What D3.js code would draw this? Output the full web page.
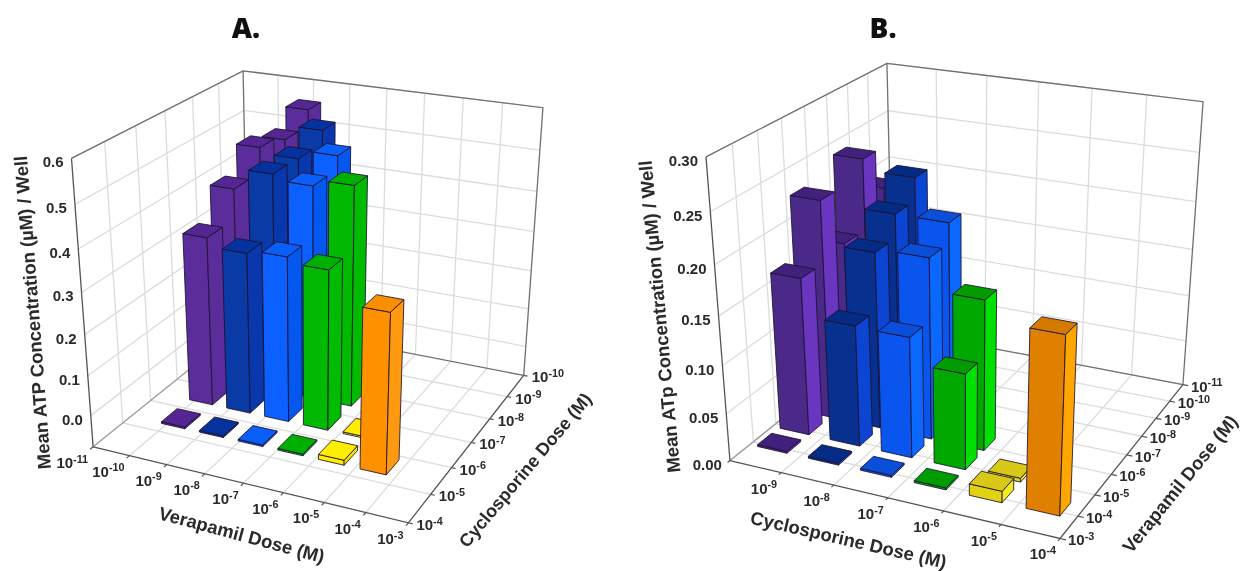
<!DOCTYPE html>
<html>
<head>
<meta charset="utf-8">
<script src="https://cdn.jsdelivr.net/npm/d3@7"></script>
<style>
  html, body { margin: 0; background: #fff; }
  svg { filter: blur(0.4px); }
  text { font-family: "Liberation Sans", Arial, sans-serif; fill: #2a2a2a; font-weight: bold; }
  .title { font-family: "Open Sans", sans-serif; font-size: 28px; font-weight: 800; fill: #111; }
</style>
</head>
<body>
<svg id="chart" width="1241" height="571"></svg>
<script>
const verapamilExpA = [-11, -10, -9, -8, -7, -6, -5, -4, -3]
const cycloExpA = [-4, -5, -6, -7, -8, -9, -10]
const zTicksA = [0, 0.1, 0.2, 0.3, 0.4, 0.5, 0.6]

const cycloExpB = [-10, -9, -8, -7, -6, -5, -4]
const verapamilExpB = [-3, -4, -5, -6, -7, -8, -9, -10, -11]
const zTicksB = [0, 0.05, 0.10, 0.15, 0.20, 0.25, 0.30]

// rows run front to back, columns run left to right
const purpleA = [0.004, 0.405, 0.475, 0.533, 0.515, 0.553]
const navyA = [0.004, 0.385, 0.523, 0.52, 0.55]
const blueA = [0.004, 0.393, 0.51, 0.54]
const greenA = [0.004, 0.38, 0.525]
const yellowA = [0.012, 0.004]
const orangeA = [0.37]

const purpleB = [0.002, 0.165, 0.228, 0.17, 0.243, 0.20]
const navyB = [0.002, 0.127, 0.185, 0.209, 0.232]
const blueB = [0.002, 0.126, 0.189, 0.209]
const greenB = [0.002, 0.10, 0.157]
const yellowB = [0.012, 0.004]
const orangeB = [0.178]

const coloursA = [
  ['#5a2d9b', '#5a2d9b', '#532691'],
  ['#0a3aa6', '#0838ac', '#0433a0'],
  ['#0b60ff', '#0558ee', '#0a5ff8'],
  ['#00b900', '#00bb00', '#00b000'],
  ['#ffee00', '#f4e200', '#ffee00'],
  ['#ff9100', '#ff9a10', '#f98e00']
]
const coloursB = [
  ['#4a2988', '#6a35bf', '#41217c'],
  ['#08308f', '#0b45d2', '#052c85'],
  ['#0a55ee', '#0a68ff', '#0a4fd8'],
  ['#00a800', '#00e000', '#009c00'],
  ['#e2d214', '#f2ea20', '#d8c818'],
  ['#e08000', '#ffa600', '#d47a00']
]

// least squares camera matrix from the cube corners
function fitCamera (pairs) {
  const n = 11
  const A = d3.range(n).map(() => new Array(n + 1).fill(0))
  function addRow (row, rhs) {
    for (let i = 0; i < n; i++) {
      for (let j = 0; j < n; j++) A[i][j] += row[i] * row[j]
      A[i][n] += row[i] * rhs
    }
  }
  pairs.forEach(([[X, Y, Z], [u, v]]) => {
    addRow([X, Y, Z, 1, 0, 0, 0, 0, -u * X, -u * Y, -u * Z], u)
    addRow([0, 0, 0, 0, X, Y, Z, 1, -v * X, -v * Y, -v * Z], v)
  })
  for (let c = 0; c < n; c++) {
    let best = c
    for (let r = c + 1; r < n; r++) if (Math.abs(A[r][c]) > Math.abs(A[best][c])) best = r
    const tmp = A[c]; A[c] = A[best]; A[best] = tmp
    for (let r = 0; r < n; r++) {
      if (r === c) continue
      const f = A[r][c] / A[c][c]
      for (let k = c; k <= n; k++) A[r][k] -= f * A[c][k]
    }
  }
  const p = A.map((row, i) => row[n] / row[i])
  return ([X, Y, Z]) => {
    const w = p[8] * X + p[9] * Y + p[10] * Z + 1
    return [
      (p[0] * X + p[1] * Y + p[2] * Z + p[3]) / w,
      (p[4] * X + p[5] * Y + p[6] * Z + p[7]) / w
    ]
  }
}

function supLabel (g, base, exp, x, y, size, anchor) {
  const t = g.append('text').attr('x', x).attr('y', y).attr('text-anchor', anchor || 'start')
    .style('font-size', size + 'px')
  t.append('tspan').text(base)
  t.append('tspan').attr('dy', -size * 0.35).style('font-size', (size * 0.72) + 'px').text(exp)
  return t
}

function drawPanel (svg, cfg) {
  const g = svg.append('g')
  const x = d3.scaleLinear().domain(cfg.xDomain).range([0, 1])
  const y = d3.scaleLinear().domain(cfg.yDomain).range([0, 1])
  const z = d3.scaleLinear().domain(cfg.zDomain).range([0, 1])
  const project = fitCamera(cfg.corners)
  const pt = (a, b, c) => project([x(a), y(b), z(c)])
  const line = d3.line()
  const [x0, x1] = cfg.xDomain
  const [y0, y1] = cfg.yDomain
  const [z0, z1] = cfg.zDomain

  const grid = g.append('g').attr('stroke', '#dcdcdc').attr('stroke-width', 1.3).attr('fill', 'none')
  cfg.xTicks.slice(1, -1).forEach(t => {
    grid.append('path').attr('d', line([pt(t, y0, z0), pt(t, y1, z0), pt(t, y1, z1)]))
  })
  cfg.yTicks.slice(1, -1).forEach(t => {
    grid.append('path').attr('d', line([pt(x0, t, z1), pt(x0, t, z0), pt(x1, t, z0)]))
  })
  cfg.zTicks.forEach(t => {
    grid.append('path').attr('d', line([pt(x0, y0, t), pt(x0, y1, t), pt(x1, y1, t)]))
  })

  // box frame
  const frame = g.append('g').attr('stroke', '#707070').attr('stroke-width', 1.3).attr('fill', 'none')
  frame.append('path').attr('d', line([pt(x0, y0, z1), pt(x0, y1, z1), pt(x1, y1, z1), pt(x1, y1, z0)]))
  frame.append('path').attr('d', line([pt(x0, y1, z1), pt(x0, y1, z0)]))
  frame.append('path').attr('d', line([pt(x0, y1, z0), pt(x1, y1, z0)]))
  frame.append('path').attr('d', line([pt(x0, y1, z0), pt(x0, y0, z0)])).attr('stroke', '#9a9a9a')
  frame.append('path').attr('d', line([pt(x0, y0, z0), pt(x1, y0, z0), pt(x1, y1, z0)])).attr('stroke', '#555')
  frame.append('path').attr('d', line([pt(x0, y0, z0), pt(x0, y0, z1)])).attr('stroke', '#555')

  // bars, back rows first
  const bars = []
  cfg.series.forEach((values, col) => {
    values.forEach((v, row) => bars.push({ col, row, v }))
  })
  bars.sort((a, b) => b.row - a.row || a.col - b.col)
  const hw = cfg.barX / 2
  const hd = cfg.barY / 2
  bars.forEach(d => {
    const cx = cfg.xFirst + d.col
    const cy = cfg.yFirst - d.row
    const l = cx - hw
    const r = cx + hw
    const f = cy + hd
    const b = cy - hd
    const [front, side, top] = cfg.colours[d.col]
    const face = (pts, fill) => g.append('path')
      .attr('d', line(pts) + 'Z')
      .attr('fill', fill)
      .attr('stroke', '#1c1030')
      .attr('stroke-opacity', 0.85)
      .attr('stroke-width', 1)
      .attr('stroke-linejoin', 'round')
    face([pt(l, f, 0), pt(r, f, 0), pt(r, f, d.v), pt(l, f, d.v)], front)
    face([pt(r, f, 0), pt(r, b, 0), pt(r, b, d.v), pt(r, f, d.v)], side)
    face([pt(l, f, d.v), pt(r, f, d.v), pt(r, b, d.v), pt(l, b, d.v)], top)
  })

  // axis ticks and labels
  const ticks = g.append('g').attr('stroke', '#555').attr('stroke-width', 1.2)
  cfg.xTicks.forEach((t, i) => {
    const p = pt(t, y0, z0)
    const q = pt(t, y0 + 0.1, z0)
    ticks.append('line').attr('x1', p[0]).attr('y1', p[1]).attr('x2', q[0]).attr('y2', q[1])
    if (i >= cfg.xLabelFrom) supLabel(g, '10', t, p[0] + cfg.xLabelDx, p[1] + cfg.xLabelDy, 15, 'end')
  })
  cfg.yTicks.forEach(t => {
    const p = pt(x1, t, z0)
    const q = pt(x1 + 0.1, t, z0)
    ticks.append('line').attr('x1', p[0]).attr('y1', p[1]).attr('x2', q[0]).attr('y2', q[1])
    supLabel(g, '10', t, p[0] + cfg.yLabelDx, p[1] + 7, 15)
  })
  cfg.zTicks.forEach(t => {
    const p = pt(x0, y0, t)
    g.append('text').attr('x', p[0] - 8).attr('y', p[1] + 9).attr('text-anchor', 'end')
      .style('font-size', '15px').text(cfg.zFormat(t))
  })

  cfg.texts.forEach(d => {
    g.append('text')
      .attr('transform', `translate(${d.x},${d.y}) rotate(${d.rot})`)
      .attr('text-anchor', 'middle')
      .style('font-size', d.size + 'px')
      .text(d.label)
  })
  g.append('text').attr('class', 'title').attr('x', cfg.titleX).attr('y', 38)
    .attr('text-anchor', 'middle').text(cfg.title)
}

const svg = d3.select('#chart')

drawPanel(svg, {
  title: 'A.',
  titleX: 246,
  xDomain: [-11, -3],
  yDomain: [-4, -10],
  zDomain: [-0.08, 0.6],
  xTicks: verapamilExpA,
  yTicks: cycloExpA,
  zTicks: zTicksA,
  zFormat: d3.format('.1f'),
  corners: [
    [[0, 0, 0], [93.5, 447]],
    [[1, 0, 0], [408, 523]],
    [[1, 1, 0], [524, 375]],
    [[0, 1, 0], [248, 322]],
    [[0, 0, 1], [71.5, 158]],
    [[0, 1, 1], [243, 71]],
    [[1, 1, 1], [543, 108]]
  ],
  series: [purpleA, navyA, blueA, greenA, yellowA, orangeA],
  colours: coloursA,
  xFirst: -9.0,
  yFirst: -4.55,
  barX: 0.62,
  barY: 0.55,
  xLabelFrom: 0,
  xLabelDx: -5,
  xLabelDy: 21,
  yLabelDx: 8,
  texts: [
    { label: 'Mean ATP Concentration (µM) / Well', x: 39, y: 312, rot: -94.4, size: 18.5 },
    { label: 'Verapamil Dose (M)', x: 240, y: 541, rot: 15, size: 18.5 },
    { label: 'Cyclosporine Dose (M)', x: 530, y: 474, rot: -50, size: 18 }
  ]
})

drawPanel(svg, {
  title: 'B.',
  titleX: 883,
  xDomain: [-10, -4],
  yDomain: [-3, -11],
  zDomain: [0, 0.30],
  xTicks: cycloExpB,
  yTicks: verapamilExpB,
  zTicks: zTicksB,
  zFormat: d3.format('.2f'),
  corners: [
    [[0, 0, 0], [730, 460]],
    [[1, 0, 0], [1060, 539]],
    [[1, 1, 0], [1183, 384]],
    [[0, 1, 0], [893, 330]],
    [[0, 0, 1], [706, 157]],
    [[0, 1, 1], [887, 63]],
    [[1, 1, 1], [1203, 102]]
  ],
  series: [purpleB, navyB, blueB, greenB, yellowB, orangeB],
  colours: coloursB,
  xFirst: -9.55,
  yFirst: -4.15,
  barX: 0.58,
  barY: 0.62,
  xLabelFrom: 1,
  xLabelDx: -4,
  xLabelDy: 21,
  yLabelDx: 8,
  texts: [
    { label: 'Mean ATp Concentration (µM) / Well', x: 666, y: 316, rot: -95.3, size: 18.5 },
    { label: 'Cyclosporine Dose (M)', x: 847, y: 546, rot: 13, size: 18.5 },
    { label: 'Verapamil Dose (M)', x: 1185, y: 488, rot: -51, size: 18.5 }
  ]
})
</script>
</body>
</html>
